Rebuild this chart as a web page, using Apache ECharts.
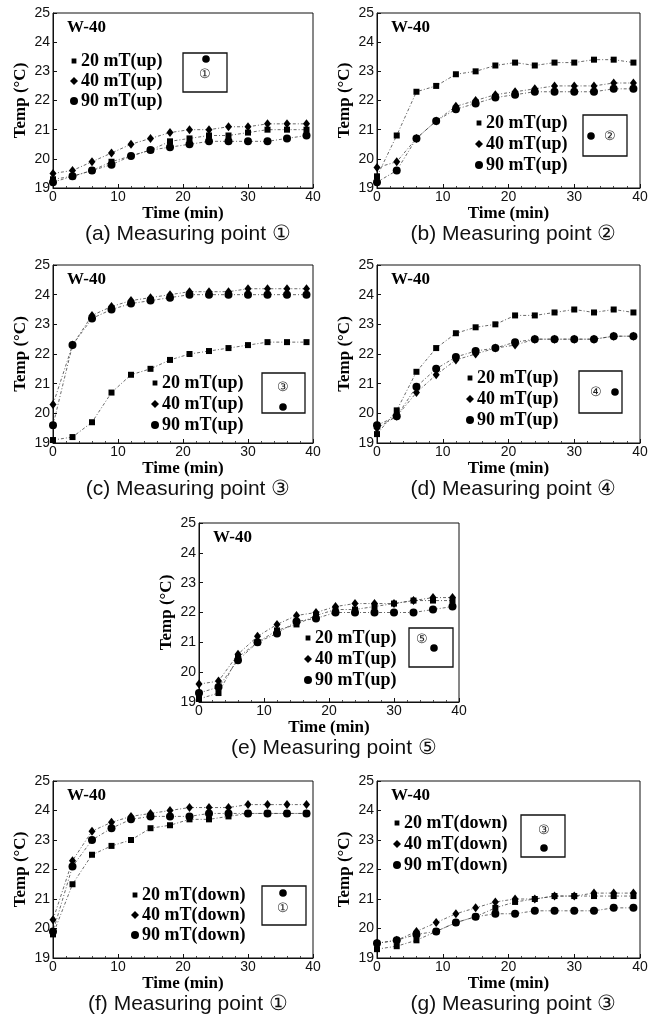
<!DOCTYPE html>
<html>
<head>
<meta charset="utf-8">
<script src="https://cdn.jsdelivr.net/npm/echarts@6/dist/echarts.min.js"></script>
<style>
  html, body { margin: 0; padding: 0; background: #fff; }
  #chart { width: 658px; height: 1021px; }
</style>
</head>
<body>
<div id="chart"></div>
<script>
// sampling times (min)
const times = [0, 3, 6, 9, 12, 15, 18, 21, 24, 27, 30, 33, 36, 39];
const xTicks = [0, 10, 20, 30, 40];
const yTicks = [19, 20, 21, 22, 23, 24, 25];

// (a) point 1, up
const a20 = [19.3, 19.4, 19.6, 19.9, 20.1, 20.3, 20.6, 20.7, 20.8, 20.8, 20.9, 21.0, 21.0, 21.0];
const a40 = [19.5, 19.6, 19.9, 20.2, 20.5, 20.7, 20.9, 21.0, 21.0, 21.1, 21.1, 21.2, 21.2, 21.2];
const a90 = [19.2, 19.4, 19.6, 19.8, 20.1, 20.3, 20.4, 20.5, 20.6, 20.6, 20.6, 20.6, 20.7, 20.8];
// (b) point 2, up
const b20 = [19.4, 20.8, 22.3, 22.5, 22.9, 23.0, 23.2, 23.3, 23.2, 23.3, 23.3, 23.4, 23.4, 23.3];
const b40 = [19.7, 19.9, 20.7, 21.3, 21.8, 22.0, 22.2, 22.3, 22.4, 22.5, 22.5, 22.5, 22.6, 22.6];
const b90 = [19.2, 19.6, 20.7, 21.3, 21.7, 21.9, 22.1, 22.2, 22.3, 22.3, 22.3, 22.3, 22.4, 22.4];
// (c) point 3, up
const c20 = [19.1, 19.2, 19.7, 20.7, 21.3, 21.5, 21.8, 22.0, 22.1, 22.2, 22.3, 22.4, 22.4, 22.4];
const c40 = [20.3, 22.3, 23.3, 23.6, 23.8, 23.9, 24.0, 24.1, 24.1, 24.1, 24.2, 24.2, 24.2, 24.2];
const c90 = [19.6, 22.3, 23.2, 23.5, 23.7, 23.8, 23.9, 24.0, 24.0, 24.0, 24.0, 24.0, 24.0, 24.0];
// (d) point 4, up
const d20 = [19.3, 20.1, 21.4, 22.2, 22.7, 22.9, 23.0, 23.3, 23.3, 23.4, 23.5, 23.4, 23.5, 23.4];
const d40 = [19.5, 19.9, 20.7, 21.3, 21.8, 22.0, 22.2, 22.3, 22.5, 22.5, 22.5, 22.5, 22.6, 22.6];
const d90 = [19.6, 19.9, 20.9, 21.5, 21.9, 22.1, 22.2, 22.4, 22.5, 22.5, 22.5, 22.5, 22.6, 22.6];
// (e) point 5, up
const e20 = [19.1, 19.3, 20.5, 21.0, 21.4, 21.6, 21.9, 22.1, 22.1, 22.2, 22.3, 22.4, 22.4, 22.4];
const e40 = [19.6, 19.7, 20.6, 21.2, 21.6, 21.9, 22.0, 22.2, 22.3, 22.3, 22.3, 22.4, 22.5, 22.5];
const e90 = [19.3, 19.5, 20.4, 21.0, 21.3, 21.7, 21.8, 22.0, 22.0, 22.0, 22.0, 22.0, 22.1, 22.2];
// (f) point 1, down
const f20 = [19.8, 21.5, 22.5, 22.8, 23.0, 23.4, 23.5, 23.7, 23.7, 23.8, 23.9, 23.9, 23.9, 23.9];
const f40 = [20.3, 22.3, 23.3, 23.6, 23.8, 23.9, 24.0, 24.1, 24.1, 24.1, 24.2, 24.2, 24.2, 24.2];
const f90 = [19.9, 22.1, 23.0, 23.4, 23.7, 23.8, 23.8, 23.8, 23.9, 23.9, 23.9, 23.9, 23.9, 23.9];
// (g) point 3, down
const g20 = [19.3, 19.4, 19.6, 19.9, 20.2, 20.4, 20.7, 20.9, 21.0, 21.1, 21.1, 21.1, 21.1, 21.1];
const g40 = [19.5, 19.6, 19.9, 20.2, 20.5, 20.7, 20.9, 21.0, 21.0, 21.1, 21.1, 21.2, 21.2, 21.2];
const g90 = [19.5, 19.6, 19.8, 19.9, 20.2, 20.4, 20.5, 20.5, 20.6, 20.6, 20.6, 20.6, 20.7, 20.7];

const upNames = ['20 mT(up)', '40 mT(up)', '90 mT(up)'];
const downNames = ['20 mT(down)', '40 mT(down)', '90 mT(down)'];
const captions = ['(a) Measuring point ①', '(b) Measuring point ②', '(c) Measuring point ③',
  '(d) Measuring point ④', '(e) Measuring point ⑤', '(f) Measuring point ①', '(g) Measuring point ③'];
const insetNums = ['①', '②', '③', '④', '⑤', '①', '③'];

// layout of each panel: grid box, legend spot, inset box with dot + number
const panels = [
  { grid: [53, 13, 260, 175], values: [a20, a40, a90], names: upNames, leg: [70, 52, 2],
    box: [183, 53, 44, 39], dot: [206, 59], num: [205, 74] },
  { grid: [377, 13, 263, 175], values: [b20, b40, b90], names: upNames, leg: [475, 114, 3],
    box: [583, 115, 44, 41], dot: [591, 136], num: [610, 136] },
  { grid: [53, 265, 260, 178], values: [c20, c40, c90], names: upNames, leg: [151, 374, 3],
    box: [262, 373, 43, 40], dot: [283, 407], num: [283, 387] },
  { grid: [377, 265, 263, 178], values: [d20, d40, d90], names: upNames, leg: [466, 369, 3],
    box: [579, 371, 43, 42], dot: [615, 392], num: [596, 392] },
  { grid: [199, 523, 260, 179], values: [e20, e40, e90], names: upNames, leg: [304, 629, 3],
    box: [409, 628, 44, 39], dot: [434, 648], num: [422, 639] },
  { grid: [53, 781, 260, 177], values: [f20, f40, f90], names: downNames, leg: [131, 886, 2],
    box: [262, 886, 44, 39], dot: [283, 893], num: [283, 908] },
  { grid: [377, 781, 263, 177], values: [g20, g40, g90], names: downNames, leg: [393, 814, 3],
    box: [521, 815, 44, 42], dot: [544, 848], num: [544, 830] }
];

// square drawn a bit smaller than its legend cell (tiny corner dots keep the bbox)
const smallSquare = 'path://M0,0h0.01v0.01h-0.01zM2,2h6v6h-6zM9.99,9.99h0.01v0.01h-0.01z';
const symbols = ['rect', 'diamond', 'circle'];
const symbolSizes = [6, [7, 9], 8];
const legendIcons = [smallSquare, 'diamond', 'circle'];

const serif = '"Liberation Serif", "DejaVu Serif", serif';
const sans = '"Liberation Sans", Arial, sans-serif';

const chart = echarts.init(document.getElementById('chart'))

const grids = [], xAxes = [], yAxes = [], series = [], legends = [], graphics = []

panels.forEach((p, i) => {
  const [l, t, w, h] = p.grid
  grids.push({ left: l, top: t, width: w, height: h, show: true, borderColor: '#111', borderWidth: 1 })

  xAxes.push({
    gridIndex: i, type: 'value', min: xTicks[0], max: xTicks[xTicks.length - 1], interval: 10,
    name: 'Time (min)', nameLocation: 'middle', nameGap: 13,
    nameTextStyle: { fontFamily: serif, fontWeight: 'bold', fontSize: 17, color: '#000' },
    axisLine: { lineStyle: { color: '#111', width: 1 } },
    axisTick: { inside: true, length: 4, lineStyle: { color: '#111' } },
    minorTick: { show: true, splitNumber: 5, length: 2, lineStyle: { color: '#444' } },
    axisLabel: { margin: 2, fontFamily: sans, fontSize: 14, color: '#111' },
    splitLine: { show: false }
  })

  yAxes.push({
    gridIndex: i, type: 'value', min: yTicks[0], max: yTicks[yTicks.length - 1], interval: 1,
    name: 'Temp (°C)', nameLocation: 'middle', nameGap: 24,
    nameTextStyle: { fontFamily: serif, fontWeight: 'bold', fontSize: 17, color: '#000' },
    axisLine: { lineStyle: { color: '#111', width: 1 } },
    axisTick: { inside: true, length: 4, lineStyle: { color: '#111' } },
    axisLabel: { margin: 3, fontFamily: sans, fontSize: 14, color: '#111' },
    splitLine: { show: false }
  })

  p.values.forEach((vals, k) => {
    series.push({
      type: 'line', name: p.names[k], xAxisIndex: i, yAxisIndex: i,
      data: times.map((tm, j) => [tm, vals[j]]),
      symbol: symbols[k], symbolSize: symbolSizes[k], showAllSymbol: true,
      itemStyle: { color: '#000' },
      lineStyle: { color: '#444', width: 0.8, type: [3, 2, 1, 2] },
      animation: false
    })
  })

  legends.push({
    left: p.leg[0], top: p.leg[1], orient: 'vertical', itemGap: p.leg[2], padding: 0,
    itemWidth: 8, itemHeight: 8, selectedMode: false,
    data: p.names.map((n, k) => ({ name: n, icon: legendIcons[k] })),
    itemStyle: { color: '#000' },
    textStyle: { fontFamily: serif, fontWeight: 'bold', fontSize: 18, color: '#000', padding: [0, 0, 0, -2] }
  })

  // W-40 tag
  graphics.push({ type: 'text', x: l + 14, y: t + 15,
    style: { text: 'W-40', font: 'bold 17px ' + serif, fill: '#000', textVerticalAlign: 'middle' } })
  // caption under the panel
  graphics.push({ type: 'text', x: l + w / 2 + 5, y: t + h + 46,
    style: { text: captions[i], font: '21px ' + sans, fill: '#111', textAlign: 'center', textVerticalAlign: 'middle' } })
  // inset box with a dot and the circled point number
  const [bx, by, bw, bh] = p.box
  graphics.push({ type: 'rect', shape: { x: bx, y: by, width: bw, height: bh },
    style: { fill: '#fff', stroke: '#111', lineWidth: 1.3 } })
  graphics.push({ type: 'circle', shape: { cx: p.dot[0], cy: p.dot[1], r: 3.8 }, style: { fill: '#000' } })
  graphics.push({ type: 'text', x: p.num[0], y: p.num[1],
    style: { text: insetNums[i], font: '13px ' + sans, fill: '#222', textAlign: 'center', textVerticalAlign: 'middle' } })
})

chart.setOption({
  animation: false,
  grid: grids,
  xAxis: xAxes,
  yAxis: yAxes,
  legend: legends,
  series: series,
  graphic: graphics
})
</script>
</body>
</html>
